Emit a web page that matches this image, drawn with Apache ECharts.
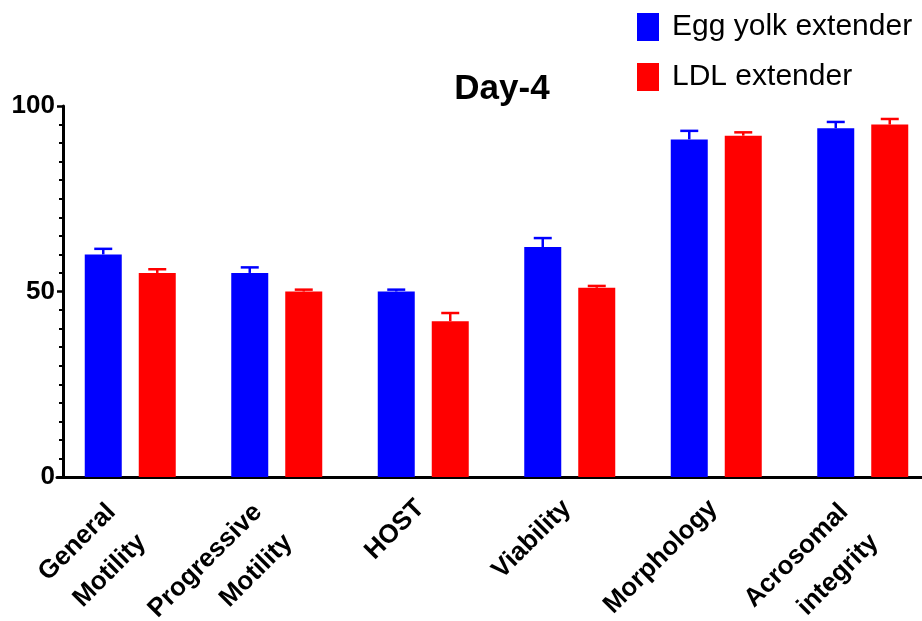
<!DOCTYPE html>
<html>
<head>
<meta charset="utf-8">
<script src="https://cdn.jsdelivr.net/npm/echarts@6/dist/echarts.min.js"></script>
<style>
  html, body { margin: 0; padding: 0; background: #fff; }
  #chart { width: 922px; height: 621px; }
</style>
</head>
<body>
<div id="chart"></div>
<script>
// Sperm quality parameters on day 4, two extenders (mean with upper error bar)
const categories = ['General\nMotility', 'Progressive\nMotility', 'HOST', 'Viability', 'Morphology', 'Acrosomal\nintegrity'];
const eggYolk = [60, 55, 50, 62, 91, 94];
const eggYolkErr = [1.5, 1.5, 0.5, 2.4, 2.3, 1.7];
const ldl = [55, 50, 42, 51, 92, 95];
const ldlErr = [1, 0.5, 2.2, 0.5, 0.9, 1.5];
const yTicks = [0, 50, 100];

const FONT = "'Liberation Sans', Arial, sans-serif";
const BAR_W = 37;
const BAR_GAP = 17;

const labelFont = { fontFamily: FONT, fontWeight: 'bold', fontSize: 26, color: '#000' };

// two-line and one-line category names sit slightly differently under the axis
function categoryLabel(name) {
  if (name.indexOf('\n') >= 0) {
    return name.split('\n').map(s => '{two|' + s + '}').join('\n');
  }
  return '{one|' + name + '}';
}

function errorBarSeries(name, values, errs, color, side) {
  return {
    name: name,
    type: 'custom',
    z: 5,
    silent: true,
    data: values.map((v, i) => [i, v, v + errs[i]]),
    renderItem: function (params, api) {
      const base = api.coord([api.value(0), api.value(1)]);
      const top = api.coord([api.value(0), api.value(2)]);
      const x = base[0] + side * (BAR_W + BAR_GAP) / 2;
      const half = 9;
      const style = { stroke: color, lineWidth: 2.5 };
      return {
        type: 'group',
        children: [
          { type: 'line', shape: { x1: x, y1: base[1], x2: x, y2: top[1] }, style: style },
          { type: 'line', shape: { x1: x - half, y1: top[1], x2: x + half, y2: top[1] }, style: style }
        ]
      };
    }
  };
}

const chart = echarts.init(document.getElementById('chart'), null, { renderer: 'canvas' });
chart.setOption({
  animation: false,
  backgroundColor: '#ffffff',
  title: {
    text: 'Day-4',
    left: 497,
    top: 67,
    textAlign: 'center',
    textStyle: { fontFamily: FONT, fontWeight: 'bold', fontSize: 35, color: '#000' }
  },
  legend: {
    orient: 'vertical',
    left: 632,
    top: 7,
    itemWidth: 22,
    itemHeight: 28,
    itemGap: 20,
    icon: 'rect',
    data: ['Egg yolk extender', 'LDL extender'],
    textStyle: { fontFamily: FONT, fontSize: 30, lineHeight: 28, color: '#000', padding: [0, 0, 0, 8] }
  },
  grid: { left: 57, top: 106, width: 879, height: 371, containLabel: false, outerBoundsMode: 'none' },
  xAxis: {
    type: 'category',
    data: categories,
    axisLine: { lineStyle: { color: '#000', width: 3 } },
    axisTick: { alignWithLabel: true, length: 7, lineStyle: { color: '#000', width: 2.5 } },
    axisLabel: Object.assign({
      rotate: 45,
      interval: 0,
      margin: -18,
      align: 'right',
      verticalAlign: 'top',
      padding: [0, 34, 0, 0],
      lineHeight: 43,
      formatter: categoryLabel,
      rich: {
        one: Object.assign({ lineHeight: 60 }, labelFont),
        two: Object.assign({ lineHeight: 43, padding: [0, 14, 0, 0] }, labelFont)
      }
    }, labelFont)
  },
  yAxis: {
    type: 'value',
    min: 0,
    max: 100,
    interval: 50,
    offset: -6,
    axisLine: { show: true, lineStyle: { color: '#000', width: 3 } },
    axisTick: { show: true, length: 6, lineStyle: { color: '#000', width: 2.5 } },
    minorTick: { show: true, splitNumber: 10, length: 4, lineStyle: { color: '#000', width: 2 } },
    splitLine: { show: false },
    axisLabel: {
      margin: 8,
      fontFamily: FONT,
      fontWeight: 'bold',
      fontSize: 26,
      color: '#000',
      formatter: v => (yTicks.indexOf(v) >= 0 ? String(v) : '')
    }
  },
  series: [
    {
      name: 'Egg yolk extender',
      type: 'bar',
      barWidth: BAR_W,
      barGap: (BAR_GAP / BAR_W * 100) + '%',
      itemStyle: { color: '#0000ff' },
      data: eggYolk
    },
    {
      name: 'LDL extender',
      type: 'bar',
      barWidth: BAR_W,
      itemStyle: { color: '#ff0000' },
      data: ldl
    },
    errorBarSeries('Egg yolk extender', eggYolk, eggYolkErr, '#0000ff', -1),
    errorBarSeries('LDL extender', ldl, ldlErr, '#ff0000', 1)
  ]
});
</script>
</body>
</html>
